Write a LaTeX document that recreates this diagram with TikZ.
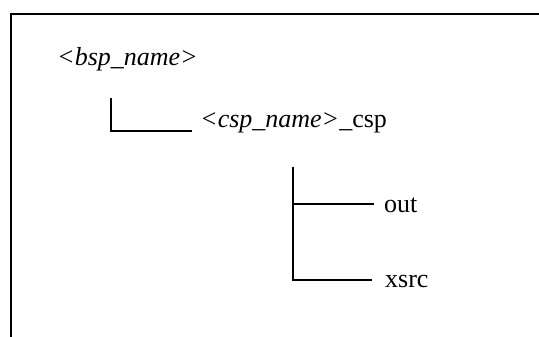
\documentclass[tikz,border=0pt]{standalone}
\usepackage{fontspec}
\setmainfont{Liberation Serif}
\begin{document}
\begin{tikzpicture}[x=1pt,y=-1pt,
  lbl/.style={anchor=base west, inner sep=0pt, font=\fontsize{26}{30}\selectfont},
  tree/.style={line width=1.5pt},
  framebox/.style={line width=2pt}]
\useasboundingbox (0,0) rectangle (539,337);
\coordinate (fbl) at (11,337);
\coordinate (ftl) at (11,14);
\coordinate (ftr) at (539,14);
\draw[framebox] (fbl) -- (ftl) -- (ftr);
\node[lbl] (bsp) at (57,66) {\textit{<bsp\_name>}};
\node[lbl] (csp) at (200,128) {\textit{<csp\_name>}\_csp};
\node[lbl] (out) at (384,212) {out};
\node[lbl] (xsrc) at (385,287) {xsrc};
\coordinate (c1top) at (111,98);
\coordinate (c1) at (111,131);
\coordinate (c1end) at (192,131);
\draw[tree] (c1top) -- (c1) -- (c1end);
\coordinate (c2top) at (293,167);
\coordinate (c2mid) at (293,204);
\coordinate (c2bot) at (293,280);
\coordinate (oend) at (374,204);
\coordinate (xend) at (372,280);
\draw[tree] (c2top) -- (c2bot) -- (xend);
\draw[tree] (c2mid) -- (oend);
\end{tikzpicture}
\end{document}
